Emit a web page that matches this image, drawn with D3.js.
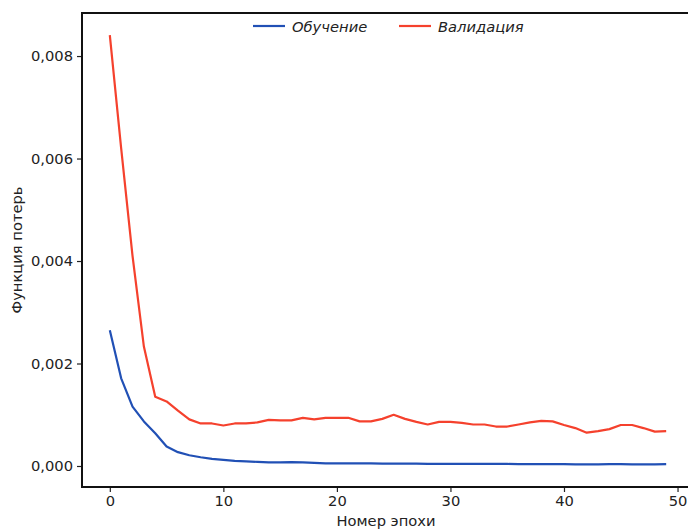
<!DOCTYPE html>
<html>
<head>
<meta charset="utf-8">
<script src="https://cdn.jsdelivr.net/npm/d3@7"></script>
<style>
  body { margin: 0; background: #fff; }
  svg { font-family: "DejaVu Sans", sans-serif; }
</style>
</head>
<body>
<div id="chart"></div>
<script>
// loss per epoch (values x 0.001)
const epochs = d3.range(0, 50);
const trainLoss = [2.65, 1.71, 1.16, 0.87, 0.64, 0.38, 0.27, 0.21, 0.17, 0.14,
  0.12, 0.10, 0.09, 0.08, 0.07, 0.07, 0.075, 0.07, 0.06, 0.05,
  0.05, 0.05, 0.05, 0.05, 0.045, 0.045, 0.045, 0.045, 0.04, 0.04,
  0.04, 0.04, 0.04, 0.04, 0.04, 0.04, 0.035, 0.035, 0.035, 0.035,
  0.035, 0.03, 0.03, 0.03, 0.035, 0.035, 0.03, 0.03, 0.03, 0.035];
const validLoss = [8.41, 6.2, 4.1, 2.33, 1.35, 1.26, 1.08, 0.91, 0.83, 0.83,
  0.79, 0.83, 0.83, 0.85, 0.90, 0.89, 0.89, 0.94, 0.91, 0.94,
  0.94, 0.94, 0.87, 0.87, 0.92, 1.00, 0.92, 0.86, 0.81, 0.86,
  0.86, 0.84, 0.81, 0.81, 0.77, 0.77, 0.81, 0.85, 0.88, 0.87,
  0.80, 0.74, 0.65, 0.68, 0.72, 0.80, 0.80, 0.74, 0.67, 0.68];
const seriesNames = ["Обучение", "Валидация"];
const seriesColors = ["#2150b5", "#f5412d"];
const xTicks = [0, 10, 20, 30, 40, 50];
const yTicks = [0, 0.002, 0.004, 0.006, 0.008];

const width = 688, height = 530;
const plot = {left: 82, top: 13, right: 694, bottom: 487};
const fontSize = 14.7;

const svg = d3.select("#chart").append("svg")
  .attr("width", width)
  .attr("height", height);

const x = d3.scaleLinear().domain([-2.45, 51.45]).range([plot.left, plot.right]);
const y = d3.scaleLinear().domain([-0.00041, 0.00884]).range([plot.bottom, plot.top]);

const fmt = v => d3.format(".3f")(v).replace(".", ",");

// axes
const xAxis = svg.append("g")
  .attr("transform", `translate(0,${plot.bottom})`)
  .call(d3.axisBottom(x).tickValues(xTicks).tickSize(5).tickPadding(4).tickSizeOuter(0));
const yAxis = svg.append("g")
  .attr("transform", `translate(${plot.left},0)`)
  .call(d3.axisLeft(y).tickValues(yTicks).tickFormat(fmt).tickSize(5).tickPadding(4).tickSizeOuter(0));

[xAxis, yAxis].forEach(a => {
  a.selectAll("text").attr("font-size", fontSize).attr("fill", "#222")
    .attr("font-family", "DejaVu Sans, sans-serif");
  a.selectAll(".tick line").attr("stroke", "#222").attr("stroke-width", 1.2);
  a.select(".domain").remove();
});

// frame (right spine falls outside the window)
svg.append("rect")
  .attr("x", plot.left).attr("y", plot.top)
  .attr("width", plot.right - plot.left).attr("height", plot.bottom - plot.top)
  .attr("fill", "none").attr("stroke", "#111").attr("stroke-width", 2);

// lines
const line = d3.line()
  .x((d, i) => x(epochs[i]))
  .y(d => y(d / 1000));

[trainLoss, validLoss].forEach((s, k) => {
  svg.append("path")
    .datum(s)
    .attr("d", line)
    .attr("fill", "none")
    .attr("stroke", seriesColors[k])
    .attr("stroke-width", 2.2)
    .attr("stroke-linejoin", "round");
});

// legend
const legendX = [253, 399];
seriesNames.forEach((name, k) => {
  const g = svg.append("g").attr("transform", `translate(${legendX[k]},26)`);
  g.append("line").attr("x1", 0).attr("x2", 32).attr("y1", 0).attr("y2", 0)
    .attr("stroke", seriesColors[k]).attr("stroke-width", 2.2);
  g.append("text").attr("x", 39).attr("y", 5.5)
    .attr("font-size", fontSize).attr("font-style", "italic").attr("fill", "#222")
    .text(name);
});

// axis labels
svg.append("text")
  .attr("x", (plot.left + plot.right) / 2 - 2).attr("y", 526)
  .attr("text-anchor", "middle").attr("font-size", fontSize).attr("fill", "#222")
  .text("Номер эпохи");
svg.append("text")
  .attr("transform", `translate(22,${(plot.top + plot.bottom) / 2}) rotate(-90)`)
  .attr("text-anchor", "middle").attr("font-size", fontSize).attr("fill", "#222")
  .text("Функция потерь");
</script>
</body>
</html>
